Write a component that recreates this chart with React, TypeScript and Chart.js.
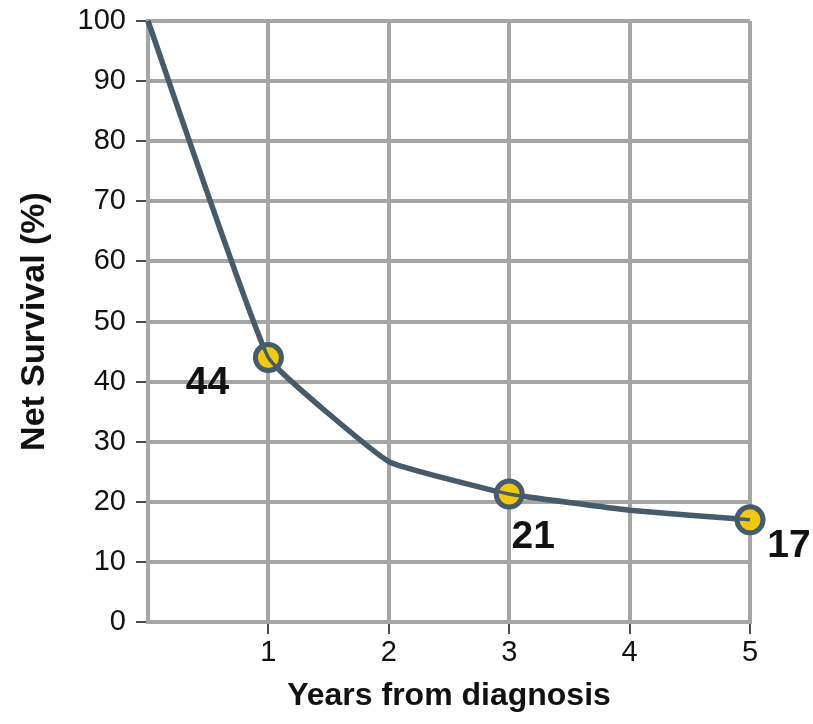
import React, { useEffect, useRef } from 'react';
import { Chart, registerables } from 'chart.js';

Chart.register(...registerables);

const years = [0, 1, 2, 3, 4, 5];
const survival = [100, 44, 26.7, 21.3, 18.6, 17];
const markedYears = [1, 3, 5];
const markedLabels = ['44', '21', '17'];
const xTickLabels = ['', '1', '2', '3', '4', '5'];
const yAxisTitle = 'Net Survival (%)';
const xAxisTitle = 'Years from diagnosis';

const GRID = '#a6a6a6';
const LINE = '#465b6b';
const YELLOW = '#f2c811';
const FONT = "'Liberation Sans', Arial, sans-serif";

const labelOffsets = [
  { dx: -61, dy: 26 },
  { dx: 24, dy: 43 },
  { dx: 39, dy: 26 },
];

const valueLabelPlugin = {
  id: 'valueLabels',
  afterDatasetsDraw(chart: any) {
    const ctx = chart.ctx;
    const xs = chart.scales.x;
    const ys = chart.scales.y;
    ctx.save();
    ctx.font = `bold 39px ${FONT}`;
    ctx.fillStyle = '#111';
    ctx.textAlign = 'center';
    ctx.textBaseline = 'middle';
    markedYears.forEach((yr, i) => {
      const idx = years.indexOf(yr);
      const px = xs.getPixelForValue(yr);
      const py = ys.getPixelForValue(survival[idx]);
      ctx.fillText(markedLabels[i], px + labelOffsets[i].dx, py + labelOffsets[i].dy);
    });
    ctx.restore();
  },
};

export default function App() {
  const ref = useRef<HTMLCanvasElement>(null);
  useEffect(() => {
    if (!ref.current) return;
    const points = years.map((x, i) => ({ x, y: survival[i] }));
    const isMarked = (i: number) => markedYears.includes(years[i]);
    const chart = new Chart(ref.current, {
      type: 'line',
      data: {
        datasets: [
          {
            data: points,
            borderColor: LINE,
            borderWidth: 3.5,
            pointRadius: 0,
            fill: false,
            tension: 0.1,
            clip: false as any,
            order: 0,
          },
          {
            data: points,
            borderColor: LINE,
            borderWidth: 5.5,
            pointRadius: years.map((_, i) => (isMarked(i) ? 13 : 0)),
            pointBackgroundColor: YELLOW,
            pointBorderColor: LINE,
            pointBorderWidth: 5,
            fill: false,
            tension: 0.1,
            clip: false as any,
            order: 1,
          },
        ],
      },
      plugins: [valueLabelPlugin],
      options: {
        animation: false,
        responsive: true,
        maintainAspectRatio: false,
        layout: { padding: { top: 21, right: 63, left: 8, bottom: 0 } },
        plugins: { legend: { display: false }, tooltip: { enabled: false }, title: { display: false } },
        scales: {
          x: {
            type: 'linear',
            min: 0,
            max: 5,
            ticks: {
              stepSize: 1,
              color: '#111',
              font: { family: FONT, size: 29 },
              padding: 2,
              callback: (v: any) => xTickLabels[years.indexOf(Number(v))] ?? '',
            },
            grid: {
              color: GRID,
              lineWidth: 4,
              tickColor: (c: any) => (c.tick && c.tick.value === 0 ? 'rgba(0,0,0,0)' : '#111'),
              tickWidth: 1.5,
              tickLength: 12,
            },
            border: { color: GRID, width: 4 },
            title: {
              display: true,
              text: xAxisTitle,
              color: '#111',
              font: { family: FONT, size: 32, weight: 'bold' },
              padding: { top: 4, bottom: 9 },
            },
            afterFit: (s: any) => { s.height = 102; s.paddingLeft = 0; s.paddingRight = 0; },
          },
          y: {
            min: 0,
            max: 100,
            ticks: {
              stepSize: 10,
              color: '#111',
              font: { family: FONT, size: 29 },
              padding: 10,
            },
            grid: {
              color: GRID,
              lineWidth: 4,
              tickColor: '#111',
              tickWidth: 1.5,
              tickLength: 12,
            },
            border: { color: GRID, width: 4 },
            title: {
              display: true,
              text: yAxisTitle,
              color: '#111',
              font: { family: FONT, size: 34, weight: 'bold' },
              padding: { top: 6, bottom: 4 },
            },
            afterFit: (s: any) => { s.width = 140; s.paddingTop = 0; s.paddingBottom = 0; },
          },
        },
      },
    } as any);
    return () => chart.destroy();
  }, []);
  return (
    <div style={{ position: 'fixed', left: 0, top: 0, width: 813, height: 724, background: '#fff' }}>
      <canvas ref={ref} />
    </div>
  );
}
